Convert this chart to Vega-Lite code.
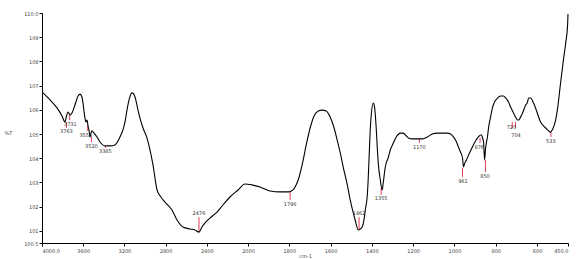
{
  "$schema": "https://vega.github.io/schema/vega-lite/v6.json",
  "autosize": {"type": "none"},
  "padding": {"left": 42, "top": 13, "right": 11, "bottom": 16},
  "width": 526,
  "height": 230,
  "background": "white",
  "config": {"view": {"stroke": null}, "font": "DejaVu Sans"},
  "datasets": {
    "spectrum": [
      {"wn": 3990, "T": 106.70}, {"wn": 3922, "T": 106.41}, {"wn": 3854, "T": 106.08}, {"wn": 3806, "T": 105.75},
      {"wn": 3777, "T": 105.50}, {"wn": 3767, "T": 105.66}, {"wn": 3748, "T": 105.91}, {"wn": 3728, "T": 105.79},
      {"wn": 3709, "T": 105.87}, {"wn": 3680, "T": 106.20}, {"wn": 3650, "T": 106.57}, {"wn": 3631, "T": 106.65},
      {"wn": 3612, "T": 106.53}, {"wn": 3602, "T": 106.28}, {"wn": 3583, "T": 105.66}, {"wn": 3573, "T": 105.50},
      {"wn": 3563, "T": 105.58}, {"wn": 3553, "T": 105.33}, {"wn": 3544, "T": 105.17}, {"wn": 3534, "T": 104.88},
      {"wn": 3524, "T": 105.04}, {"wn": 3515, "T": 105.13}, {"wn": 3495, "T": 105.04}, {"wn": 3466, "T": 104.88},
      {"wn": 3437, "T": 104.67}, {"wn": 3388, "T": 104.51}, {"wn": 3340, "T": 104.51}, {"wn": 3291, "T": 104.55},
      {"wn": 3262, "T": 104.71}, {"wn": 3243, "T": 104.88}, {"wn": 3214, "T": 105.17}, {"wn": 3194, "T": 105.50},
      {"wn": 3175, "T": 105.99}, {"wn": 3155, "T": 106.41}, {"wn": 3126, "T": 106.70}, {"wn": 3097, "T": 106.53},
      {"wn": 3068, "T": 105.99}, {"wn": 3049, "T": 105.66}, {"wn": 3019, "T": 105.25}, {"wn": 2981, "T": 104.84},
      {"wn": 2951, "T": 104.34}, {"wn": 2922, "T": 103.72}, {"wn": 2883, "T": 102.69}, {"wn": 2845, "T": 102.40},
      {"wn": 2806, "T": 102.19}, {"wn": 2738, "T": 101.86}, {"wn": 2689, "T": 101.45}, {"wn": 2631, "T": 101.16},
      {"wn": 2563, "T": 101.08}, {"wn": 2515, "T": 101.04}, {"wn": 2476, "T": 100.95}, {"wn": 2447, "T": 101.16},
      {"wn": 2417, "T": 101.33}, {"wn": 2369, "T": 101.53}, {"wn": 2301, "T": 101.78}, {"wn": 2243, "T": 102.07},
      {"wn": 2175, "T": 102.40}, {"wn": 2097, "T": 102.69}, {"wn": 2029, "T": 102.94}, {"wn": 1981, "T": 102.90},
      {"wn": 1942, "T": 102.81}, {"wn": 1893, "T": 102.65}, {"wn": 1845, "T": 102.61}, {"wn": 1801, "T": 102.61},
      {"wn": 1782, "T": 102.69}, {"wn": 1767, "T": 102.90}, {"wn": 1757, "T": 103.10}, {"wn": 1738, "T": 103.72},
      {"wn": 1718, "T": 104.55}, {"wn": 1699, "T": 105.25}, {"wn": 1680, "T": 105.75}, {"wn": 1660, "T": 105.95},
      {"wn": 1641, "T": 105.99}, {"wn": 1621, "T": 105.95}, {"wn": 1602, "T": 105.70}, {"wn": 1583, "T": 105.25},
      {"wn": 1568, "T": 104.75}, {"wn": 1553, "T": 104.22}, {"wn": 1539, "T": 103.64}, {"wn": 1519, "T": 102.90},
      {"wn": 1505, "T": 102.28}, {"wn": 1490, "T": 101.74}, {"wn": 1481, "T": 101.45}, {"wn": 1466, "T": 101.04},
      {"wn": 1456, "T": 101.08}, {"wn": 1447, "T": 101.16}, {"wn": 1437, "T": 101.53}, {"wn": 1432, "T": 101.86},
      {"wn": 1422, "T": 102.48}, {"wn": 1418, "T": 103.10}, {"wn": 1413, "T": 104.13}, {"wn": 1408, "T": 105.17},
      {"wn": 1403, "T": 105.79}, {"wn": 1393, "T": 106.28}, {"wn": 1388, "T": 106.16}, {"wn": 1384, "T": 105.87},
      {"wn": 1379, "T": 105.25}, {"wn": 1374, "T": 104.47}, {"wn": 1369, "T": 103.80}, {"wn": 1359, "T": 103.10},
      {"wn": 1350, "T": 102.69}, {"wn": 1345, "T": 102.98}, {"wn": 1335, "T": 103.64}, {"wn": 1320, "T": 104.05},
      {"wn": 1311, "T": 104.34}, {"wn": 1296, "T": 104.63}, {"wn": 1282, "T": 104.88}, {"wn": 1262, "T": 105.04},
      {"wn": 1248, "T": 105.04}, {"wn": 1233, "T": 104.92}, {"wn": 1223, "T": 104.84}, {"wn": 1204, "T": 104.80},
      {"wn": 1180, "T": 104.80}, {"wn": 1155, "T": 104.80}, {"wn": 1131, "T": 104.88}, {"wn": 1107, "T": 105.00},
      {"wn": 1083, "T": 105.04}, {"wn": 1058, "T": 105.04}, {"wn": 1034, "T": 105.04}, {"wn": 1019, "T": 105.00},
      {"wn": 1005, "T": 104.88}, {"wn": 990, "T": 104.67}, {"wn": 981, "T": 104.47}, {"wn": 971, "T": 104.26},
      {"wn": 961, "T": 104.01}, {"wn": 956, "T": 103.64}, {"wn": 952, "T": 103.76}, {"wn": 942, "T": 103.93},
      {"wn": 927, "T": 104.22}, {"wn": 913, "T": 104.47}, {"wn": 898, "T": 104.71}, {"wn": 884, "T": 104.88},
      {"wn": 874, "T": 104.96}, {"wn": 869, "T": 104.96}, {"wn": 864, "T": 104.84}, {"wn": 859, "T": 104.67},
      {"wn": 854, "T": 103.93}, {"wn": 850, "T": 104.34}, {"wn": 845, "T": 104.67}, {"wn": 840, "T": 104.88},
      {"wn": 835, "T": 105.25}, {"wn": 825, "T": 105.70}, {"wn": 816, "T": 106.08}, {"wn": 806, "T": 106.32},
      {"wn": 791, "T": 106.49}, {"wn": 777, "T": 106.57}, {"wn": 762, "T": 106.57}, {"wn": 752, "T": 106.49},
      {"wn": 738, "T": 106.32}, {"wn": 728, "T": 106.12}, {"wn": 714, "T": 105.87}, {"wn": 704, "T": 105.70},
      {"wn": 694, "T": 105.58}, {"wn": 689, "T": 105.58}, {"wn": 680, "T": 105.70}, {"wn": 670, "T": 105.87},
      {"wn": 655, "T": 106.20}, {"wn": 646, "T": 106.32}, {"wn": 641, "T": 106.49}, {"wn": 631, "T": 106.49},
      {"wn": 617, "T": 106.28}, {"wn": 602, "T": 105.95}, {"wn": 592, "T": 105.70}, {"wn": 583, "T": 105.50},
      {"wn": 568, "T": 105.33}, {"wn": 558, "T": 105.25}, {"wn": 544, "T": 105.13}, {"wn": 534, "T": 105.08},
      {"wn": 524, "T": 105.21}, {"wn": 510, "T": 105.58}, {"wn": 500, "T": 106.08}, {"wn": 486, "T": 107.11},
      {"wn": 471, "T": 108.14}, {"wn": 461, "T": 108.76}, {"wn": 452, "T": 109.50}, {"wn": 450, "T": 109.96}
    ],
    "peaks": [
      {"wn": 3763, "top": 105.50, "bottom": 105.25, "label": "3763", "ly": 105.13, "lwn": 3763},
      {"wn": 3731, "top": 105.79, "bottom": 105.58, "label": "3731", "ly": 105.42, "lwn": 3725},
      {"wn": 3556, "top": 105.33, "bottom": 105.13, "label": "3556", "ly": 104.96, "lwn": 3575},
      {"wn": 3520, "top": 104.88, "bottom": 104.67, "label": "3520", "ly": 104.51, "lwn": 3520},
      {"wn": 3385, "top": 104.51, "bottom": 104.42, "label": "3385", "ly": 104.30, "lwn": 3385},
      {"wn": 2476, "top": 101.57, "bottom": 100.95, "label": "2476", "ly": 101.74, "lwn": 2476},
      {"wn": 1796, "top": 102.61, "bottom": 102.28, "label": "1796", "ly": 102.11, "lwn": 1796},
      {"wn": 1462, "top": 101.57, "bottom": 101.04, "label": "1462", "ly": 101.74, "lwn": 1462},
      {"wn": 1355, "top": 102.77, "bottom": 102.48, "label": "1355", "ly": 102.36, "lwn": 1355},
      {"wn": 1170, "top": 104.80, "bottom": 104.63, "label": "1170", "ly": 104.47, "lwn": 1170},
      {"wn": 961, "top": 103.60, "bottom": 103.23, "label": "961", "ly": 103.06, "lwn": 959},
      {"wn": 876, "top": 104.84, "bottom": 104.63, "label": "876", "ly": 104.47, "lwn": 880},
      {"wn": 850, "top": 103.93, "bottom": 103.43, "label": "850", "ly": 103.27, "lwn": 852},
      {"wn": 720, "top": 105.50, "bottom": 105.25, "label": "720", "ly": 105.29, "lwn": 724},
      {"wn": 704, "top": 105.50, "bottom": 105.25, "label": "704", "ly": 104.96, "lwn": 702},
      {"wn": 533, "top": 105.08, "bottom": 104.88, "label": "533", "ly": 104.71, "lwn": 533}
    ]
  },
  "encoding": {
    "x": {
      "field": "wn", "type": "quantitative",
      "scale": {"domain": [4000, 2000, 450], "range": [0, 206, 526], "zero": false, "nice": false},
      "axis": {
        "title": "cm-1", "titleFontSize": 5, "titleFontWeight": "normal", "titleColor": "#444", "titlePadding": 0,
        "values": [4000, 3600, 3200, 2800, 2400, 2000, 1800, 1600, 1400, 1200, 1000, 800, 600, 450],
        "labelExpr": "datum.value == 4000 || datum.value == 450 ? format(datum.value, '.1f') : format(datum.value, 'd')",
        "labelFontSize": 5, "labelColor": "#444", "labelPadding": 2, "labelOverlap": false,
        "tickSize": 3, "tickColor": "black", "domainColor": "black", "grid": false
      }
    },
    "y": {
      "type": "quantitative",
      "scale": {"domain": [100.5, 110], "zero": false, "nice": false},
      "axis": {
        "title": "%T", "titleAngle": 0, "titleFontSize": 5, "titleFontWeight": "normal", "titleColor": "#444",
        "titleX": -38, "titleY": 119, "titleAlign": "left", "titleBaseline": "middle",
        "values": [110, 109, 108, 107, 106, 105, 104, 103, 102, 101, 100.5],
        "labelExpr": "datum.value == 110 || datum.value == 100.5 ? format(datum.value, '.1f') : format(datum.value, 'd')",
        "labelFontSize": 5, "labelColor": "#444", "labelPadding": 1, "labelOverlap": false,
        "tickSize": 3, "tickColor": "black", "domainColor": "black", "grid": false
      }
    }
  },
  "layer": [
    {
      "data": {"name": "peaks"},
      "mark": {"type": "rule", "color": "#e0405a", "strokeWidth": 1},
      "encoding": {"y": {"field": "top"}, "y2": {"field": "bottom"}}
    },
    {
      "data": {"name": "spectrum"},
      "mark": {"type": "line", "color": "black", "strokeWidth": 1.1, "interpolate": "monotone"},
      "encoding": {"y": {"field": "T"}, "order": {"field": "wn", "sort": "descending"}}
    },
    {
      "data": {"name": "peaks"},
      "mark": {"type": "text", "fontSize": 5, "color": "#333", "baseline": "middle", "align": "center"},
      "encoding": {"x": {"field": "lwn"}, "y": {"field": "ly"}, "text": {"field": "label"}}
    }
  ]
}
